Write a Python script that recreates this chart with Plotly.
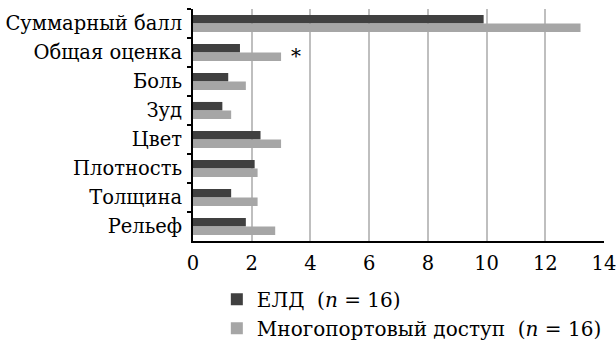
import plotly.graph_objects as go

categories = ["Суммарный балл", "Общая оценка", "Боль", "Зуд", "Цвет", "Плотность", "Толщина", "Рельеф"]
eld_values = [9.9, 1.6, 1.2, 1.0, 2.3, 2.1, 1.3, 1.8]
multi_values = [13.2, 3.0, 1.8, 1.3, 3.0, 2.2, 2.2, 2.8]
series_names = ["ЕЛД  (<i>n</i> = 16)", "Многопортовый доступ  (<i>n</i> = 16)"]
x_ticks = [0, 2, 4, 6, 8, 10, 12, 14]

FONT = "DejaVu Serif, serif"

fig = go.Figure()
fig.add_trace(go.Bar(y=categories, x=eld_values, orientation="h", name=series_names[0],
                     marker=dict(color="#404040", line=dict(width=0))))
fig.add_trace(go.Bar(y=categories, x=multi_values, orientation="h", name=series_names[1],
                     marker=dict(color="#a6a6a6", line=dict(width=0))))

fig.add_annotation(x=3.5, y="Общая оценка", yshift=-3, text="*", showarrow=False,
                   font=dict(family=FONT, size=20, color="#000"))

fig.update_layout(
    width=616, height=353, autosize=False,
    margin=dict(l=193, r=12, t=9, b=112, autoexpand=False),
    plot_bgcolor="white", paper_bgcolor="white",
    barmode="group", bargap=0.41, bargroupgap=0,
    font=dict(family=FONT, size=19.5, color="#000"),
    showlegend=True,
    legend=dict(x=0.058, y=-0.167, xanchor="left", yanchor="top",
                font=dict(family=FONT, size=20, color="#000"),
                traceorder="normal", tracegroupgap=0, itemwidth=30,
                bgcolor="rgba(0,0,0,0)"),
    xaxis=dict(range=[0, 14], tickvals=x_ticks, showgrid=True, gridcolor="#bfbfbf", gridwidth=2,
               zeroline=False, showline=True, linecolor="#000", linewidth=2, automargin=False,
               ticks="", ticklabelstandoff=4, ticklabeloverflow="allow",
               tickfont=dict(family=FONT, size=19.5)),
    yaxis=dict(autorange="reversed", showline=True, linecolor="#000", linewidth=2, automargin=False,
               ticks="outside", ticklen=4, tickwidth=2, tickcolor="#000", tickson="boundaries",
               ticklabelstandoff=5, showgrid=False, tickfont=dict(family=FONT, size=19.5)),
)

fig.write_html("out.html", config={"displayModeBar": False},
               post_script="document.body.style.margin='0';document.body.style.overflow='hidden';")
